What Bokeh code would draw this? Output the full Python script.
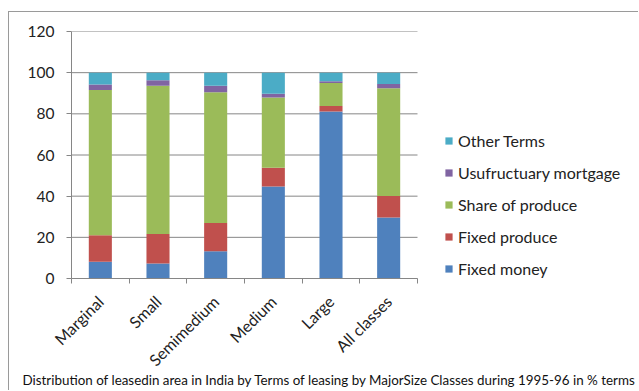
import numpy as np
from bokeh.plotting import figure
from bokeh.models import FixedTicker, Range1d, Legend, LegendItem, Title
from bokeh.embed import file_html
from bokeh.resources import INLINE

categories = ["Marginal", "Small", "Semimedium", "Medium", "Large", "All classes"]
series_names = ["Fixed money", "Fixed produce", "Share of produce", "Usufructuary mortgage", "Other Terms"]
fixed_money = [8.1, 7.3, 13.2, 44.7, 81.1, 29.6]
fixed_produce = [12.9, 14.3, 13.8, 9.1, 2.7, 10.5]
share_of_produce = [70.6, 72.1, 63.5, 34.1, 11.2, 52.3]
usufructuary_mortgage = [2.7, 2.6, 3.2, 1.9, 0.8, 2.1]
other_terms = [5.7, 3.7, 6.3, 10.2, 4.2, 5.5]
y_ticks = [0, 20, 40, 60, 80, 100, 120]
caption = "Distribution of leasedin area in India by Terms of leasing by MajorSize Classes during 1995-96 in % terms"

colors = ["#4F81BD", "#C0504D", "#9BBB59", "#8064A2", "#4BACC6"]
FONT = "Lato"
GRID = "#868686"

n = len(categories)
centers = list(np.arange(n) + 0.5)
data = {"x": centers,
        "Fixed money": fixed_money,
        "Fixed produce": fixed_produce,
        "Share of produce": share_of_produce,
        "Usufructuary mortgage": usufructuary_mortgage,
        "Other Terms": other_terms}

W, H = 630, 379
BL, BT, BB = 62, 19, 113
PLOT_W = 346                       # pixel width of the category area
frame_w = W - BL
x_end = n * frame_w / PLOT_W       # frame extends to the right to host the legend

p = figure(width=W, height=H, output_backend="svg", toolbar_location=None,
           x_range=Range1d(0, x_end), y_range=Range1d(0, 120),
           min_border_left=BL, min_border_right=0, min_border_top=BT, min_border_bottom=BB)
p.styles = {"border-left": "1px solid #9a9a9a", "border-top": "1px solid #9a9a9a",
            "margin-left": "8px", "margin-top": "11px"}
p.outline_line_color = None
p.xgrid.visible = False
p.ygrid.visible = False

# horizontal gridlines limited to the category area
p.segment(x0=0, x1=n, y0=y_ticks, y1=y_ticks, line_color=GRID, line_width=1)

renderers = p.vbar_stack(series_names, x="x", width=0.4, color=colors, source=data,
                         line_color=None)

# axes
p.xaxis.bounds = (0, n)
p.xaxis.ticker = FixedTicker(ticks=centers, minor_ticks=list(np.arange(n + 1)))
p.xaxis.major_label_overrides = {float(c): cat for c, cat in zip(centers, categories)}
p.xaxis.major_tick_out = 0
p.xaxis.major_tick_in = 0
p.xaxis.minor_tick_out = 5
p.xaxis.minor_tick_in = 0
p.xaxis.major_label_orientation = np.pi / 4
p.xaxis.major_label_standoff = 15
p.yaxis.ticker = FixedTicker(ticks=y_ticks)
p.yaxis.major_tick_out = 5
p.yaxis.major_tick_in = 0
p.yaxis.major_label_standoff = 12
for ax in (p.xaxis[0], p.yaxis[0]):
    ax.axis_line_color = GRID
    ax.major_tick_line_color = GRID
    ax.minor_tick_line_color = GRID
    ax.major_label_text_font = FONT
    ax.major_label_text_color = "#222222"
p.xaxis.major_label_text_font_size = "16px"
p.yaxis.major_label_text_font_size = "15.5px"
p.yaxis.minor_tick_line_color = None

items = [LegendItem(label=name, renderers=[r]) for name, r in zip(series_names, renderers)]
legend = Legend(items=items[::-1], location=(373, 0), orientation="vertical",
                padding=0, margin=0, spacing=13, glyph_width=9, glyph_height=9,
                label_height=19, label_standoff=5,
                label_text_font=FONT, label_text_font_size="16px", label_text_color="#222222",
                border_line_color=None, background_fill_alpha=0)
p.add_layout(legend, "center")

p.add_layout(Title(text=caption, align="left", offset=-49, standoff=-17,
                   text_font=FONT, text_font_size="13.4px", text_font_style="normal",
                   text_color="#111111"), "below")

open("out.html", "w").write(file_html(p, INLINE))
